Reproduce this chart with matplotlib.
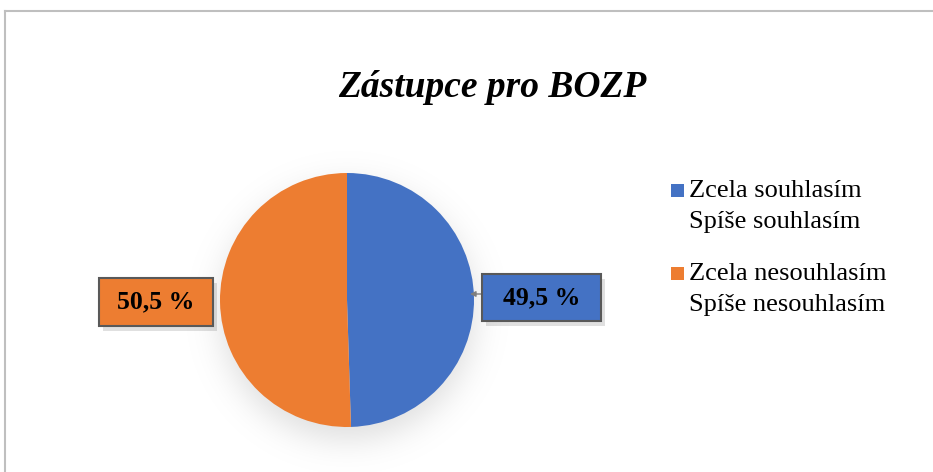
import numpy as np
import matplotlib
matplotlib.use('Agg')
import matplotlib.pyplot as plt
from matplotlib.patches import Rectangle
from matplotlib.lines import Line2D

plt.rcParams['font.family'] = ['Liberation Serif', 'DejaVu Serif']

# data
title = 'Zástupce pro BOZP'
categories = ['Zcela souhlasím\nSpíše souhlasím', 'Zcela nesouhlasím\nSpíše nesouhlasím']
values = [49.5, 50.5]
colors = ['#4472C4', '#ED7D31']

W, H = 933, 472
fig = plt.figure(figsize=(W / 100, H / 100), dpi=100)

# pie geometry in pixels
cx, cy, r = 347, 300, 127

# soft shadow under the pie
yy, xx = np.mgrid[0:H, 0:W]
d = np.sqrt((xx - cx) ** 2 + (yy - (cy + 12)) ** 2)
alpha = 0.13 * 0.5 * (1 - np.tanh((d - r) / 20.0))
shadow = np.zeros((H, W, 4))
shadow[..., 3] = alpha
fig.figimage(shadow, 0, 0, origin='upper', zorder=0)

ax = fig.add_axes([(cx - r) / W, (H - cy - r) / H, 2 * r / W, 2 * r / H])
ax.set_zorder(2)
ax.patch.set_visible(False)
ax.pie(values, colors=colors, startangle=90, counterclock=False, radius=1,
       wedgeprops=dict(linewidth=0))
ax.set_xlim(-1, 1)
ax.set_ylim(-1, 1)
ax.set_aspect('auto')
ax.axis('off')


def px(x, y):
    # pixel (from top-left) -> pie data coords
    return (x - cx) / r, (cy - y) / r


def label_box(x0, y0, x1, y1, color, text):
    bx, by = px(x0, y1)
    w, h = (x1 - x0) / r, (y1 - y0) / r
    sh = Rectangle((bx + 4 / r, by - 5 / r), w, h, facecolor='black', alpha=0.12,
                   edgecolor='none', clip_on=False, zorder=4)
    ax.add_patch(sh)
    box = Rectangle((bx, by), w, h, facecolor=color, edgecolor='#595959',
                    linewidth=1.5, clip_on=False, zorder=5)
    ax.add_patch(box)
    tx, ty = px((x0 + x1) / 2, (y0 + y1) / 2)
    ax.text(tx, ty, text, ha='center', va='center', fontsize=18.5,
            fontweight='bold', zorder=6, clip_on=False)


def fmt(v):
    return ('%.1f %%' % v).replace('.', ',')


label_box(482, 274, 601, 321, colors[0], fmt(values[0]))
label_box(99, 278, 213, 326, colors[1], fmt(values[1]))

# leader line for the blue label
lx0, ly0 = px(482, 294)
lx1, ly1 = px(470, 294)
ax.annotate('', xy=(lx1, ly1), xytext=(lx0, ly0),
            arrowprops=dict(arrowstyle='-|>', color='#7f7f7f', lw=1,
                            mutation_scale=8, shrinkA=0, shrinkB=0),
            annotation_clip=False, zorder=4)

# title
fig.text(492 / W, 1 - 97 / H, title, ha='center', va='baseline',
         fontsize=27, fontweight='bold', fontstyle='italic')

# legend drawn by hand (marker next to the first line)
leg_y = [197, 280]
for i, lab in enumerate(categories):
    y = leg_y[i]
    fig.patches.append(Rectangle((671 / W, 1 - (y) / H), 13 / W, 13 / H,
                                 transform=fig.transFigure, facecolor=colors[i],
                                 edgecolor='none'))
    for j, line in enumerate(lab.split('\n')):
        fig.text(689 / W, 1 - (y + 31 * j) / H, line, ha='left', va='baseline',
                 fontsize=19)

# chart frame (only top and left edges are visible)
fig.add_artist(Line2D([4.5 / W, 1], [1 - 10.5 / H, 1 - 10.5 / H],
                      transform=fig.transFigure, color='#BFBFBF', lw=1.5))
fig.add_artist(Line2D([4.5 / W, 4.5 / W], [0, 1 - 10.5 / H],
                      transform=fig.transFigure, color='#BFBFBF', lw=1.5))

fig.savefig('out.png', dpi=100, facecolor='white')
